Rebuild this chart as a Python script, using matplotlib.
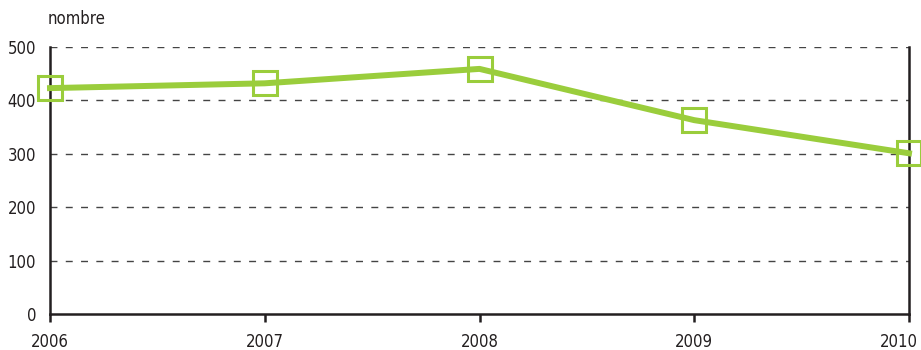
import matplotlib
matplotlib.use("Agg")
import matplotlib.pyplot as plt
from matplotlib.transforms import ScaledTranslation

plt.rcParams['font.family'] = ['DejaVu Sans']
plt.rcParams['font.stretch'] = 'condensed'

years = [2006, 2007, 2008, 2009, 2010]
values = [423, 432, 459, 363, 301]
y_ticks = [0, 100, 200, 300, 400, 500]

green = '#9acd3c'
dark = '#231f20'

fig = plt.figure(figsize=(9.21, 3.5), dpi=100)
ax = fig.add_axes([50 / 921, 36 / 350, 859 / 921, 267 / 350])

for t in y_ticks[1:]:
    ax.axhline(t, color='#444444', lw=1, ls=(0, (5, 6)), zorder=1)

ax.plot(years, values, color=green, lw=4.3, marker='s', markersize=17,
        markerfacecolor='none', markeredgecolor=green, markeredgewidth=2.2,
        clip_on=False, zorder=3)

ax.set_xlim(2006, 2010)
ax.set_ylim(0, 500)
ax.set_xticks(years)
ax.set_xticklabels([str(y) for y in years])
ax.set_yticks(y_ticks)

ax.spines['top'].set_visible(False)
for s in ('left', 'right', 'bottom'):
    ax.spines[s].set_linewidth(1.8)
    ax.spines[s].set_color(dark)
    ax.spines[s].set_zorder(2)

ax.tick_params(axis='x', length=6, width=1.8, color=dark,
               labelsize=12, pad=8, labelcolor=dark)
ax.tick_params(axis='y', length=0, labelsize=12, pad=10, labelcolor=dark)

# keep the last year label inside the picture
last = ax.get_xticklabels()[-1]
last.set_transform(last.get_transform() + ScaledTranslation(-10 / 100, 0, fig.dpi_scale_trans))

fig.text(48 / 921, 1 - 19 / 350, 'nombre', fontsize=12, color=dark,
         va='center', ha='left')

fig.savefig('out.png', dpi=100)
